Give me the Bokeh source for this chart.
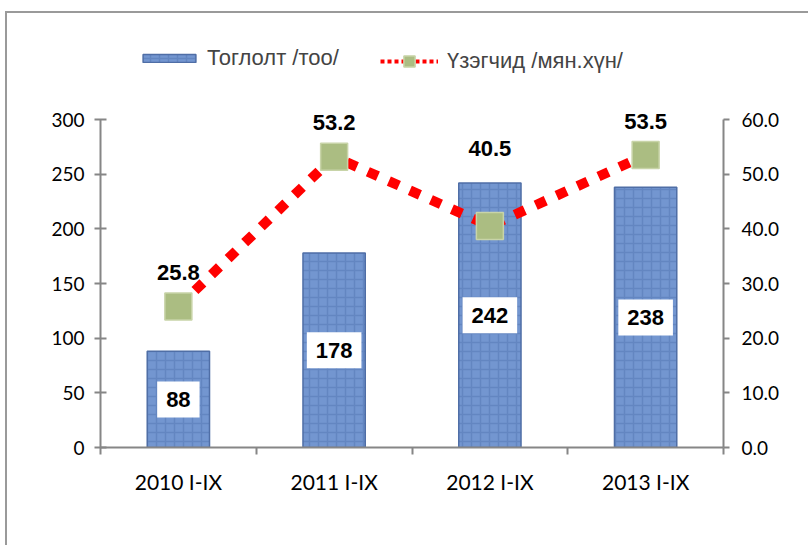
from bokeh.plotting import figure
from bokeh.models import (ColumnDataSource, Range1d, LinearAxis, FixedTicker, NumeralTickFormatter,
                          LabelSet, Legend, LegendItem, CustomJSTickFormatter)
from bokeh.core.properties import value
from bokeh.embed import file_html
from bokeh.resources import INLINE

categories = ["2010 I-IX", "2011 I-IX", "2012 I-IX", "2013 I-IX"]
games = [88, 178, 242, 238]            # Тоглолт /тоо/
spectators = [25.8, 53.2, 40.5, 53.5]  # Үзэгчид /мян.хүн/
left_ticks = [0, 50, 100, 150, 200, 250, 300]
right_ticks = [0, 10, 20, 30, 40, 50, 60]

LEFT_MAX, RIGHT_MAX = 300, 60
scale = RIGHT_MAX / LEFT_MAX
xs = [i + 0.5 for i in range(len(categories))]

# layout (pixels)
W, H = 803, 534
B_LEFT, B_RIGHT, B_TOP, B_BOTTOM = 93, 87, 15, 100
AXIS_PX = 328                      # pixel height of the 0..300 axis
FRAME_PX = H - B_TOP - B_BOTTOM
ext = FRAME_PX / AXIS_PX

src = ColumnDataSource(dict(
    x=xs, games=games, games_mid=[g / 2 for g in games], games_txt=[str(g) for g in games],
    box_w=[18 + 12.2 * len(str(g)) for g in games],
    spec=spectators, spec_txt=[f"{v:.1f}" for v in spectators],
    spec_lab=[max(v, g * scale) for v, g in zip(spectators, games)],
))

p = figure(width=W, height=H, output_backend="svg", toolbar_location=None,
           x_range=Range1d(0, len(categories)), y_range=Range1d(0, LEFT_MAX * ext),
           x_axis_location=None, min_border_left=B_LEFT, min_border_right=B_RIGHT,
           min_border_top=B_TOP, min_border_bottom=B_BOTTOM,
           background_fill_color="white", border_fill_color="white",
           styles={"border-left": "2px solid #9a9a9a", "border-top": "2px solid #9a9a9a",
                   "margin-left": "5px", "margin-top": "11px"})
p.extra_y_ranges = {"right": Range1d(0, RIGHT_MAX * ext),
                    "hidden": Range1d(10 * RIGHT_MAX, 20 * RIGHT_MAX)}  # legend proxies only
p.grid.visible = False
p.outline_line_color = None

AX = "#868686"
FONT = "Lato"

yl = p.yaxis[0]
yl.ticker = FixedTicker(ticks=left_ticks)
yl.bounds = (0, LEFT_MAX)
yl.axis_line_color = AX
yl.axis_line_width = 2
yl.major_tick_line_color = AX
yl.major_tick_line_width = 2
yl.major_tick_in = 6
yl.major_tick_out = 6
yl.minor_tick_line_color = None
yl.major_label_text_font = FONT
yl.major_label_text_font_size = "19px"
yl.major_label_text_color = "black"
yl.major_label_standoff = 10

yr = LinearAxis(y_range_name="right", ticker=FixedTicker(ticks=right_ticks),
                formatter=NumeralTickFormatter(format="0.0"), bounds=(0, RIGHT_MAX))
yr.axis_line_color = AX
yr.axis_line_width = 2
yr.major_tick_line_color = AX
yr.major_tick_line_width = 2
yr.major_tick_in = 0
yr.major_tick_out = 6
yr.minor_tick_line_color = None
yr.major_label_text_font = FONT
yr.major_label_text_font_size = "19px"
yr.major_label_text_color = "black"
yr.major_label_standoff = 12
p.add_layout(yr, "right")

xt = LinearAxis(ticker=FixedTicker(ticks=list(range(len(categories) + 1))),
                formatter=CustomJSTickFormatter(code="return ''"))
xt.axis_line_color = AX
xt.axis_line_width = 2
xt.major_tick_line_color = AX
xt.major_tick_line_width = 2
xt.major_tick_in = 0
xt.major_tick_out = 7
xt.minor_tick_line_color = None
xt.major_label_standoff = 0
p.add_layout(xt, "below")

xl = LinearAxis(ticker=FixedTicker(ticks=xs),
                major_label_overrides={x: c for x, c in zip(xs, categories)})
xl.axis_line_color = None
xl.major_tick_line_color = None
xl.minor_tick_line_color = None
xl.major_label_text_font = FONT
xl.major_label_text_font_size = "21px"
xl.major_label_text_color = "black"
xl.major_label_standoff = 8
p.add_layout(xl, "below")

bars = p.vbar(x="x", top="games", width=0.4, source=src,
              fill_color="#7396d0", line_color="#4f6ea6", line_width=1.5,
              hatch_pattern="cross", hatch_color="#3f5f9f", hatch_alpha=0.3,
              hatch_scale=9, hatch_weight=1.5)

p.rect(x="x", y="games_mid", width="box_w", height=36, width_units="screen",
       height_units="screen", source=src, fill_color="white", line_color=None)

line = p.line(x="x", y="spec", source=src, y_range_name="right",
              line_color="#ff0000", line_width=10, line_dash="11 12")
marks = p.scatter(x="x", y="spec", source=src, y_range_name="right", marker="square",
                  size=27, fill_color="#abbd82", line_color="#c8d4a8", line_width=1.5)

# legend-only proxies (small dotted line with a marker), drawn on an off-screen range
leg_line = p.line(x="x", y="spec", source=src, y_range_name="hidden",
                  line_color="#ff0000", line_width=4, line_dash="4 3")
leg_mark = p.scatter(x="x", y="spec", source=src, y_range_name="hidden", marker="square",
                     size=20, fill_color="#abbd82", line_color="#c8d4a8", line_width=1.5)

bar_labels = LabelSet(x="x", y="games_mid", text="games_txt", source=src,
                      text_align="center", text_baseline="middle",
                      text_font=value("Liberation Sans"), text_font_style="bold",
                      text_font_size="22px", text_color="black")
p.add_layout(bar_labels)

spec_labels = LabelSet(x="x", y="spec_lab", text="spec_txt", source=src, y_range_name="right",
                       y_offset=34, text_align="center", text_baseline="middle",
                       text_font=value("Liberation Sans"), text_font_style="bold",
                       text_font_size="22px", text_color="black")
p.add_layout(spec_labels)

common = dict(orientation="horizontal", label_text_font="Liberation Sans",
              label_text_font_size="22px", padding=4, margin=0,
              border_line_color=None, background_fill_alpha=0)
legend1 = Legend(items=[LegendItem(label="Тоглолт /тоо/", renderers=[bars])],
                 location=(36, 376), glyph_width=66, glyph_height=10,
                 label_standoff=5, **common)
legend2 = Legend(items=[LegendItem(label="Үзэгчид /мян.хүн/", renderers=[leg_line, leg_mark])],
                 location=(280, 372), glyph_width=58, glyph_height=28,
                 label_standoff=9, **common)
p.add_layout(legend1)
p.add_layout(legend2)

open("out.html", "w").write(file_html(p, INLINE))
